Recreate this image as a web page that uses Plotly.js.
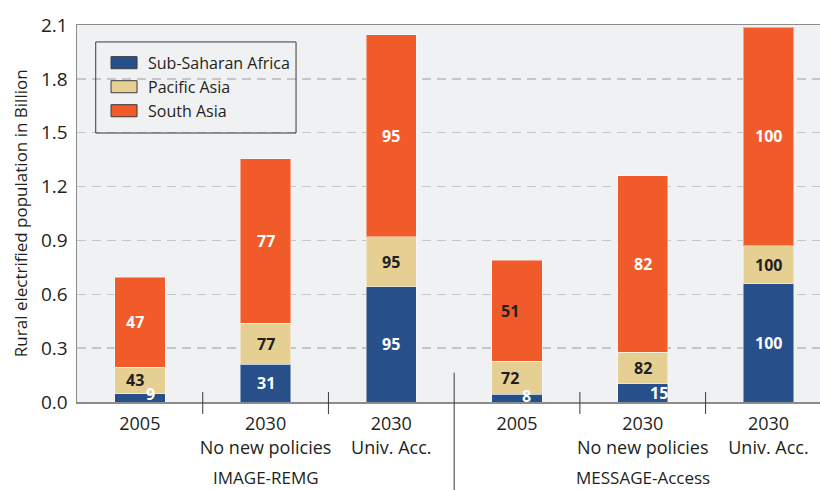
<!DOCTYPE html>
<html><head><meta charset="utf-8">
<script src="https://cdn.plot.ly/plotly-3.0.1.min.js"></script>
<style>html,body{margin:0;padding:0;background:#fff}#chart{width:820px;height:490px}</style>
</head><body><div id="chart"></div>
<script>
// ---- data ----
const models = ["IMAGE-REMG", "MESSAGE-Access"];
const scenarios = ["2005", "2030<br>No new policies", "2030<br>Univ. Acc.", "2005", "2030<br>No new policies", "2030<br>Univ. Acc."];
const seriesNames = ["Sub-Saharan Africa", "Pacific Asia", "South Asia"];
const subSaharanAfrica = [0.046, 0.21, 0.641, 0.043, 0.101, 0.66];
const pacificAsia = [0.148, 0.23, 0.28, 0.184, 0.175, 0.211];
const southAsia = [0.50, 0.914, 1.125, 0.562, 0.983, 1.216];
const rateSSA = [9, 31, 95, 8, 15, 100];
const ratePA = [43, 77, 95, 72, 82, 100];
const rateSA = [47, 77, 95, 51, 82, 100];
const yTicks = [0, 0.3, 0.6, 0.9, 1.2, 1.5, 1.8, 2.1];

// ---- style ----
const colors = ["#27508a", "#e5cf93", "#f15a29"];
const dark = "#231f20";
const FONT = "'Open Sans', 'Noto Sans', sans-serif";
const labelColors = [
  subSaharanAfrica.map(() => "#ffffff"),
  pacificAsia.map(() => dark),
  ["#ffffff", "#ffffff", "#ffffff", dark, "#ffffff", "#ffffff"]
];
const shiftX = [
  [11, 0, 0, 9, 16, 0],
  [-5, 0, 0, -7, 0, 0],
  [-5, 0, 0, -7, 0, 0]
];
const shiftY = [
  [4, 0, 0, 2, 0, 0],
  [0, 0, 0, 0, 0, 0],
  [0, 0, 0, 0, 0, 0]
];

const xs = scenarios.map((_, i) => i);
const series = [subSaharanAfrica, pacificAsia, southAsia];
const rates = [rateSSA, ratePA, rateSA];

const traces = series.map((vals, k) => ({
  type: "bar",
  name: seriesNames[k],
  x: xs,
  y: vals,
  width: 0.4,
  marker: { color: colors[k], line: { color: "rgba(255,255,255,0.45)", width: 1 } },
  hoverinfo: "skip",
  showlegend: false
}));

const annotations = [];
// bar value labels
xs.forEach((x, i) => {
  let base = 0;
  series.forEach((vals, k) => {
    annotations.push({
      x: x, y: base + vals[i] / 2, xref: "x", yref: "y",
      text: "<b>" + rates[k][i] + "</b>", showarrow: false,
      xshift: shiftX[k][i], yshift: shiftY[k][i],
      font: { family: FONT, size: 16, color: labelColors[k][i] }
    });
    base += vals[i];
  });
});
// group labels
models.forEach((m, g) => {
  annotations.push({
    x: g * 3 + 1, y: -0.237, xref: "x", yref: "paper", yanchor: "bottom",
    text: m, showarrow: false, font: { family: FONT, size: 17, color: dark }
  });
});
// y title
annotations.push({
  x: -0.0767, y: 0.501, xref: "paper", yref: "paper", textangle: -90,
  xanchor: "center", yanchor: "middle",
  text: "Rural electrified population in Billion", showarrow: false,
  font: { family: FONT, size: 17, color: dark }
});

// legend (manual)
const shapes = [];
shapes.push({ type: "rect", xref: "paper", yref: "paper", x0: 0.0252, x1: 0.2948, y0: 0.7135, y1: 0.955,
  line: { color: "#3a3a3a", width: 1 }, fillcolor: "rgba(0,0,0,0)" });
seriesNames.forEach((n, k) => {
  const yc = 0.9 - k * 0.0637;
  shapes.push({ type: "rect", xref: "paper", yref: "paper", x0: 0.0458, x1: 0.0808,
    y0: yc - 0.016, y1: yc + 0.016, fillcolor: colors[k], line: { color: "#3a3a3a", width: 1 } });
  annotations.push({ x: 0.0929, y: yc, xref: "paper", yref: "paper", xanchor: "left", yanchor: "middle",
    text: n, showarrow: false, font: { family: FONT, size: 16, color: dark } });
});
// separator ticks
[0.5, 1.5, 3.5, 4.5].forEach(x => {
  shapes.push({ type: "line", xref: "x", yref: "paper", x0: x, x1: x, y0: 0.0265, y1: -0.0318,
    line: { color: "#3a3a3a", width: 1 } });
});
shapes.push({ type: "line", xref: "x", yref: "paper", x0: 2.5, x1: 2.5, y0: 0.0777, y1: -0.24,
  line: { color: "#3a3a3a", width: 1 } });

const layout = {
  width: 820, height: 490,
  margin: { l: 77, r: 0, t: 25, b: 88 },
  paper_bgcolor: "#ffffff",
  plot_bgcolor: "#f0f1f3",
  barmode: "stack",
  showlegend: false,
  font: { family: FONT, color: dark },
  xaxis: {
    range: [-0.5, 5.41], tickvals: xs, ticktext: scenarios,
    showline: true, mirror: true, linecolor: "#8c8c8c", linewidth: 1.5,
    showgrid: false, zeroline: false, ticks: "", ticklabelstandoff: 5,
    tickfont: { family: FONT, size: 18, color: dark }
  },
  yaxis: {
    range: [0, 2.1], tickvals: yTicks, tickformat: ".1f",
    showline: true, linecolor: "#8c8c8c", linewidth: 1.5,
    showgrid: true, gridcolor: "#c6c6c6", gridwidth: 1.5, griddash: "9px,6px",
    zeroline: false, ticks: "", ticklabelstandoff: 4,
    tickfont: { family: FONT, size: 19, color: dark }
  },
  annotations: annotations,
  shapes: shapes
};

Plotly.newPlot("chart", traces, layout, { displayModeBar: false, staticPlot: true });
</script>
</body></html>
